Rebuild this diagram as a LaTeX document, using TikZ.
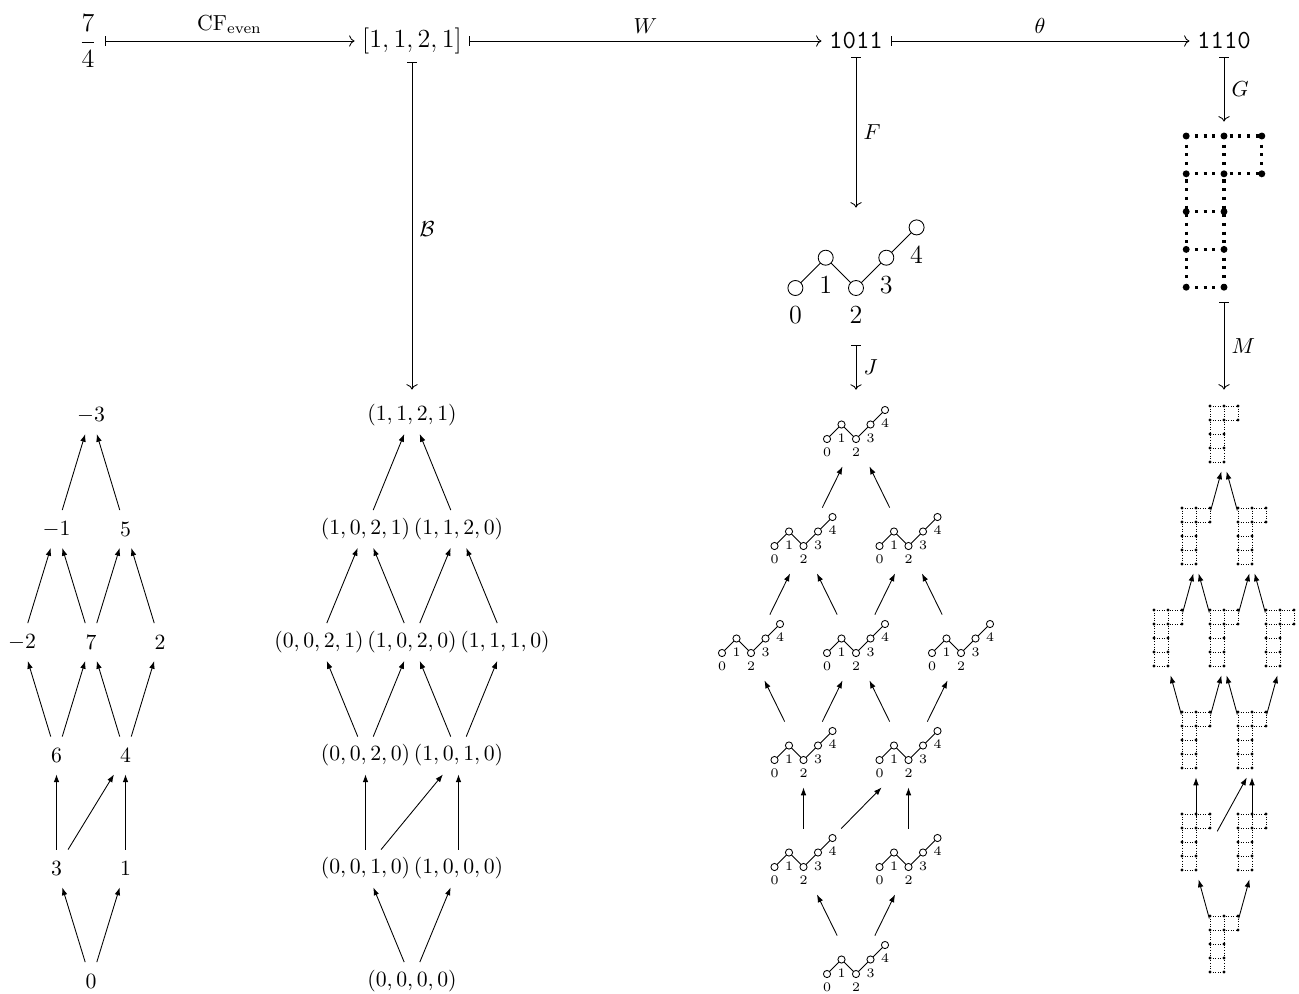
\documentclass[tikz,border=0pt]{standalone}
\usepackage{amsmath}
\usetikzlibrary{arrows.meta}
\newcommand\tinyfont{\fontsize{5.8}{7}\selectfont}
% zigzag path: #1 x, #2 y of circle 2, #3 step, #4 radius, #5 label offset, #6 font
\newcommand\zigpath[6]{%
  \draw[line width=0.4pt] ({#1-2*#3},#2) -- ({#1-#3},{#2-#3}) -- (#1,#2) -- ({#1+#3},{#2-#3}) -- ({#1+2*#3},{#2-2*#3});
  \foreach \i/\j/\l in {-2/0/0,-1/-1/1,0/0/2,1/-1/3,2/-2/4}{%
    \filldraw[fill=white,line width=0.4pt] ({#1+(\i)*#3},{#2+(\j)*#3}) circle[radius=#4];
    \node[font=#6,inner sep=0pt] at ({#1+(\i)*#3},{#2+(\j)*#3+#5}) {$\l$};
  }%
}
% dotted grid: #1 x of middle column, #2 y of bottom row, #3 step, #4 line style, #5 dot radius
\newcommand\gridpic[5]{%
  \draw[#4] ({#1-#3},{#2-4*#3}) -- ({#1+#3},{#2-4*#3})
            ({#1-#3},{#2-3*#3}) -- ({#1+#3},{#2-3*#3})
            ({#1-#3},{#2-2*#3}) -- (#1,{#2-2*#3})
            ({#1-#3},{#2-#3}) -- (#1,{#2-#3})
            ({#1-#3},#2) -- (#1,#2)
            ({#1-#3},{#2-4*#3}) -- ({#1-#3},#2)
            (#1,{#2-4*#3}) -- (#1,#2)
            ({#1+#3},{#2-4*#3}) -- ({#1+#3},{#2-3*#3});
  \foreach \i/\j in {-1/0,0/0,-1/1,0/1,-1/2,0/2,-1/3,0/3,-1/4,0/4,1/3,1/4}
    \fill ({#1+(\i)*#3},{#2-(\j)*#3}) circle[radius=#5];
}
\tikzset{
  elem/.style={inner sep=0pt, minimum height=17pt, minimum width=12pt},
  hasse/.style={line width=0.4pt, -{Latex[length=3.6pt,width=2.6pt]}},
  mapsto/.style={line width=0.4pt, {Bar[width=4.5pt]}-{To}},
  zbox/.style={draw=none, inner sep=0pt, minimum width=34.96pt, minimum height=34.96pt},
  gpoint/.style={draw=none, inner sep=0pt, minimum size=0pt},
  biggridline/.style={line width=1.4pt, dash pattern=on 1.4pt off 2.6pt},
  smallgridline/.style={line width=0.35pt, dash pattern=on 0.4pt off 0.8pt},
}
\begin{document}
\begin{tikzpicture}[x=0.46pt,y=-0.46pt]
\useasboundingbox (0,0) rectangle (1299,994);

% top row
\node[font=\large] (q) at (88,41) {$\dfrac{7}{4}$};
\node[font=\large] (cf) at (412,41) {$[1,1,2,1]$};
\node[font=\large] (w) at (856,41) {\texttt{1011}};
\node[font=\large] (th) at (1224,41) {\texttt{1110}};

% big zigzag and big grid
\node[draw=none,inner sep=0pt,minimum width=64.4pt,minimum height=63.02pt] (bz) at (856,276.5) {};
\zigpath{856}{288}{30.3}{3.45pt}{27.5}{\large}
\node[draw=none,inner sep=0pt,minimum width=46pt,minimum height=82.8pt] (bg) at (1224,212) {};
\gridpic{1224}{287.2}{37.8}{biggridline}{1.6pt}

% column 1
\node[elem] (a1) at (91,415) {$-3$};
\node[elem] (a21) at (56.5,529) {$-1$};
\node[elem] (a22) at (125.5,529) {$5$};
\node[elem] (a31) at (22,642) {$-2$};
\node[elem] (a32) at (91,642) {$7$};
\node[elem] (a33) at (160,642) {$2$};
\node[elem] (a41) at (56.5,755.5) {$6$};
\node[elem] (a42) at (125.5,755.5) {$4$};
\node[elem] (a51) at (56.5,868.5) {$3$};
\node[elem] (a52) at (125.5,868.5) {$1$};
\node[elem] (a6) at (91,981) {$0$};

% column 2
\node[elem] (b1) at (412,415) {$(1,1,2,1)$};
\node[elem] (b21) at (365.5,529) {$(1,0,2,1)$};
\node[elem] (b22) at (458.5,529) {$(1,1,2,0)$};
\node[elem] (b31) at (319,642) {$(0,0,2,1)$};
\node[elem] (b32) at (412,642) {$(1,0,2,0)$};
\node[elem] (b33) at (505,642) {$(1,1,1,0)$};
\node[elem] (b41) at (365.5,755.5) {$(0,0,2,0)$};
\node[elem] (b42) at (458.5,755.5) {$(1,0,1,0)$};
\node[elem] (b51) at (365.5,868.5) {$(0,0,1,0)$};
\node[elem] (b52) at (458.5,868.5) {$(1,0,0,0)$};
\node[elem] (b6) at (412,981) {$(0,0,0,0)$};

% column 3
\foreach \n/\x/\y in {1/856/439, 21/803.5/546, 22/908.5/546, 31/751/653, 32/856/653, 33/961/653, 41/803.5/760, 42/908.5/760, 51/803.5/867, 52/908.5/867, 6/856/974}{
  \node[zbox] (z\n) at (\x,\y) {};
  \zigpath{\x}{\y}{14.5}{1.65pt}{13.5}{\tinyfont}
}

% column 4
\foreach \n/\x/\y in {1/1224/462, 21/1196/564, 22/1252/564, 31/1168/666, 32/1224/666, 33/1280/666, 41/1196/768, 42/1252/768, 51/1196/870, 52/1252/870, 6/1224/972}{
  \node[gpoint] (g\n) at (\x,\y) {};
  \gridpic{\x}{\y}{14}{smallgridline}{0.7pt}
}

% maps
\draw[mapsto] (q) -- (cf) node[midway,above] {$\mathrm{CF}_{\mathrm{even}}$};
\draw[mapsto] (cf) -- (w) node[midway,above] {$W$};
\draw[mapsto] (w) -- (th) node[midway,above] {$\theta$};
\draw[mapsto, shorten >=3pt] (cf) -- (b1) node[midway,right] {$\mathcal{B}$};
\draw[mapsto] (w) -- (bz) node[midway,right] {$F$};
\draw[mapsto] (th) -- (bg) node[midway,right] {$G$};
\draw[mapsto, shorten >=5pt] (bz) -- (z1) node[pos=0.4,right] {$J$};
\draw[mapsto, shorten >=33.12pt] (bg) -- (g1) node[pos=0.275,right] {$M$};

% Hasse diagrams
\foreach \s/\t in {6/51,6/52,51/41,51/42,52/42,41/31,41/32,42/32,42/33,31/21,32/21,32/22,33/22,21/1,22/1}{
  \draw[hasse] (a\s) -- (a\t);
  \draw[hasse] (b\s) -- (b\t);
}
\foreach \s/\t/\e in {6/51/-5.64pt, 6/52/-5.64pt, 51/41/-5.06pt, 51/42/-7.09pt, 52/42/-5.06pt, 41/31/-5.64pt, 41/32/-5.64pt, 42/32/-5.64pt, 42/33/-5.64pt, 31/21/-5.64pt, 32/21/-5.64pt, 32/22/-5.64pt, 33/22/-5.64pt, 21/1/-5.64pt, 22/1/-5.64pt}{
  \draw[hasse, shorten >=\e] (z\s) -- (z\t);
}
\foreach \s/\t/\a/\b in {6/51/25.3pt/4.28pt, 6/52/25.3pt/4.28pt, 51/41/24.38pt/4.14pt, 51/42/20.06pt/4.74pt, 52/42/24.38pt/4.14pt, 41/31/25.3pt/4.28pt, 41/32/25.3pt/4.28pt, 42/32/25.3pt/4.28pt, 42/33/25.3pt/4.28pt, 31/21/25.3pt/4.28pt, 32/21/25.3pt/4.28pt, 32/22/25.3pt/4.28pt, 33/22/25.3pt/4.28pt, 21/1/25.3pt/4.28pt, 22/1/25.3pt/4.28pt}{
  \draw[hasse, shorten <=\a, shorten >=\b] (g\s) -- (g\t);
}
\end{tikzpicture}
\end{document}
